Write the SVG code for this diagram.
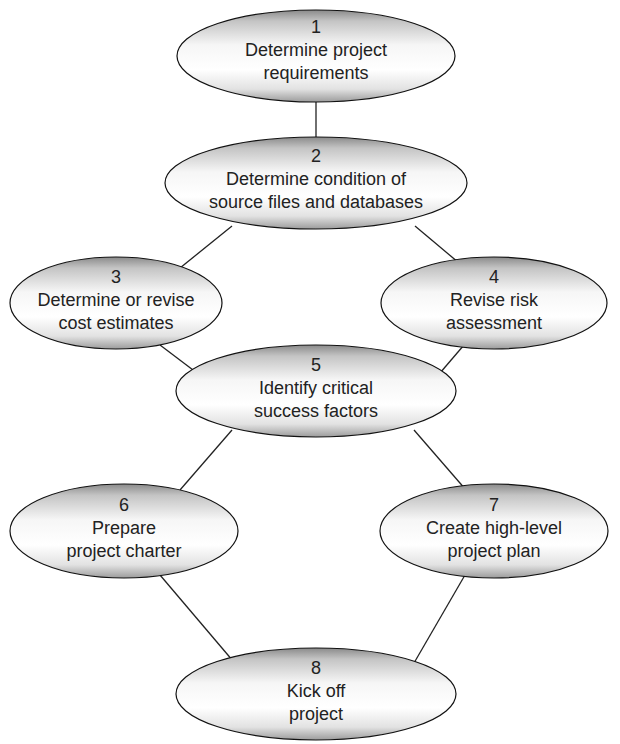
<svg xmlns="http://www.w3.org/2000/svg" width="620" height="744" viewBox="0 0 620 744">
<defs>
<linearGradient id="g" x1="0" y1="0" x2="0" y2="1">
<stop offset="0" stop-color="#8a8a8a"/>
<stop offset="0.12" stop-color="#c4c4c4"/>
<stop offset="0.38" stop-color="#f6f6f6"/>
<stop offset="0.65" stop-color="#ffffff"/>
<stop offset="0.86" stop-color="#e2e2e2"/>
<stop offset="1" stop-color="#9c9c9c"/>
</linearGradient>
<style>
.n ellipse{fill:url(#g);stroke:#111;stroke-width:1.2}
.n text{font-family:"Liberation Sans",Arial,sans-serif;font-size:18px;fill:#222;text-anchor:middle}
.c line{stroke:#222;stroke-width:1.3}
</style>
</defs>
<rect width="620" height="744" fill="#fff"/>
<g class="c" id="connectors">
<line x1="316" y1="102" x2="316" y2="137"/>
<line x1="232" y1="226" x2="180" y2="268"/>
<line x1="415" y1="226" x2="465" y2="268"/>
<line x1="160" y1="345" x2="234" y2="401"/>
<line x1="464" y1="345" x2="416" y2="401"/>
<line x1="232" y1="430" x2="180" y2="490"/>
<line x1="414" y1="430" x2="466" y2="490"/>
<line x1="160" y1="575" x2="233" y2="661"/>
<line x1="465" y1="575" x2="414" y2="663"/>
</g>
<g class="n" id="n1"><ellipse cx="316" cy="56" rx="139" ry="46"/>
<text x="316" y="33">1</text><text x="316" y="56">Determine project</text><text x="316" y="79">requirements</text></g>
<g class="n" id="n2"><ellipse cx="316" cy="183" rx="151" ry="46"/>
<text x="316" y="162">2</text><text x="316" y="185">Determine condition of</text><text x="316" y="208">source files and databases</text></g>
<g class="n" id="n3"><ellipse cx="116" cy="303" rx="106" ry="46"/>
<text x="116" y="283">3</text><text x="116" y="306">Determine or revise</text><text x="116" y="329">cost estimates</text></g>
<g class="n" id="n4"><ellipse cx="494" cy="303" rx="113" ry="46"/>
<text x="494" y="283">4</text><text x="494" y="306">Revise risk</text><text x="494" y="329">assessment</text></g>
<g class="n" id="n5"><ellipse cx="316" cy="391" rx="140" ry="46"/>
<text x="316" y="371">5</text><text x="316" y="394">Identify critical</text><text x="316" y="417">success factors</text></g>
<g class="n" id="n6"><ellipse cx="124" cy="531" rx="114" ry="47"/>
<text x="124" y="511">6</text><text x="124" y="534">Prepare</text><text x="124" y="557">project charter</text></g>
<g class="n" id="n7"><ellipse cx="494" cy="531" rx="114" ry="47"/>
<text x="494" y="511">7</text><text x="494" y="534">Create high-level</text><text x="494" y="557">project plan</text></g>
<g class="n" id="n8"><ellipse cx="316" cy="694" rx="140" ry="46"/>
<text x="316" y="674">8</text><text x="316" y="697">Kick off</text><text x="316" y="720">project</text></g>
</svg>
